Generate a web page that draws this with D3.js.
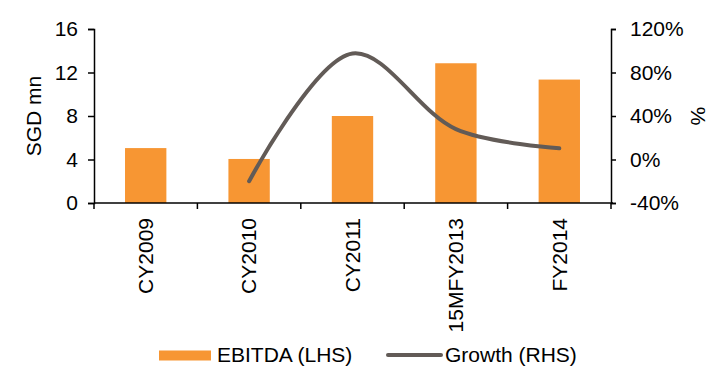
<!DOCTYPE html>
<html>
<head>
<meta charset="utf-8">
<script src="https://cdn.jsdelivr.net/npm/d3@7"></script>
<style>
  html, body { margin: 0; padding: 0; background: #fff; }
  svg text { font-family: "Liberation Sans", Arial, sans-serif; fill: #000; }
</style>
</head>
<body>
<svg id="chart" width="724" height="369"></svg>
<script>
// EBITDA (SGD mn, left axis) and year-on-year growth (%, right axis)
const categories = ["CY2009", "CY2010", "CY2011", "15MFY2013", "FY2014"];
const ebitda = [5.05, 4.05, 8.0, 12.85, 11.35];
const growth = [null, -20, 97.5, 28, 10.3];
const leftTicks = [0, 4, 8, 12, 16];
const rightTicks = [-40, 0, 40, 80, 120];

const svg = d3.select("#chart");
const plot = { left: 94, right: 611, top: 29, bottom: 203 };
const fontSize = 21;

const x = d3.scaleBand().domain(categories).range([plot.left, plot.right]).paddingInner(0).paddingOuter(0);
const yL = d3.scaleLinear().domain([0, 16]).range([plot.bottom, plot.top]);
const yR = d3.scaleLinear().domain([-40, 120]).range([plot.bottom, plot.top]);

const barColor = "#F79633";
const lineColor = "#625B57";

// bars
const barW = x.bandwidth() * 0.4;
svg.append("g").selectAll("rect").data(categories).join("rect")
  .attr("x", (d) => x(d) + (x.bandwidth() - barW) / 2)
  .attr("y", (d, i) => yL(ebitda[i]))
  .attr("width", barW)
  .attr("height", (d, i) => yL(0) - yL(ebitda[i]))
  .attr("fill", barColor);

// left axis
const gL = svg.append("g").attr("transform", `translate(${plot.left},0)`)
  .call(d3.axisLeft(yL).tickValues(leftTicks).tickSize(6).tickPadding(10).tickFormat(d3.format("d")));
// right axis
const gR = svg.append("g").attr("transform", `translate(${plot.right},0)`)
  .call(d3.axisRight(yR).tickValues(rightTicks).tickSize(5).tickPadding(14).tickFormat((d) => d + "%"));
// category axis
const gX = svg.append("g").attr("transform", `translate(0,${plot.bottom})`)
  .call(d3.axisBottom(x).tickValues([]).tickSizeOuter(0));
gX.selectAll(".cat-tick").data(d3.range(categories.length + 1)).join("line")
  .attr("x1", (i) => plot.left + i * x.step()).attr("x2", (i) => plot.left + i * x.step())
  .attr("y1", 0).attr("y2", 6).attr("stroke", "#000");
gX.selectAll(".cat-label").data(categories).join("text")
  .attr("transform", (d) => `translate(${x(d) + x.bandwidth() / 2},${15}) rotate(-90)`)
  .attr("text-anchor", "end").attr("dy", "0.35em")
  .attr("font-size", fontSize).text((d) => d);

[gL, gR, gX].forEach((g) => {
  g.selectAll(".domain").attr("stroke", "#000").attr("stroke-width", 1.5);
  g.selectAll(".tick line").attr("stroke", "#000").attr("stroke-width", 1.5);
  g.selectAll("line").attr("stroke", "#000").attr("stroke-width", 1.5);
  g.selectAll("text").attr("font-size", fontSize).attr("fill", "#000");
});
gX.selectAll(".domain").attr("d", `M${plot.left},0H${plot.right + 2}`);

// growth line, smoothed
const pts = categories.map((c, i) => [x(c) + x.bandwidth() / 2, growth[i]]).filter((p) => p[1] !== null);
svg.append("path")
  .attr("d", d3.line().x((p) => p[0]).y((p) => yR(p[1])).curve(d3.curveCatmullRom.alpha(0.5))(pts))
  .attr("fill", "none").attr("stroke", lineColor).attr("stroke-width", 4).attr("stroke-linecap", "round");

// axis titles
svg.append("text").attr("transform", `translate(41,${(plot.top + plot.bottom) / 2}) rotate(-90)`)
  .attr("text-anchor", "middle").attr("font-size", fontSize).text("SGD mn");
svg.append("text").attr("transform", `translate(691,${(plot.top + plot.bottom) / 2}) rotate(90)`)
  .attr("text-anchor", "middle").attr("font-size", fontSize).text("%");

// legend
const lg = svg.append("g");
lg.append("rect").attr("x", 159).attr("y", 350.5).attr("width", 52).attr("height", 10).attr("fill", barColor);
lg.append("text").attr("x", 217).attr("y", 362).attr("font-size", fontSize).text("EBITDA (LHS)");
lg.append("line").attr("x1", 388).attr("x2", 441).attr("y1", 355).attr("y2", 355)
  .attr("stroke", lineColor).attr("stroke-width", 4).attr("stroke-linecap", "round");
lg.append("text").attr("x", 445).attr("y", 362).attr("font-size", fontSize).text("Growth (RHS)");
</script>
</body>
</html>
